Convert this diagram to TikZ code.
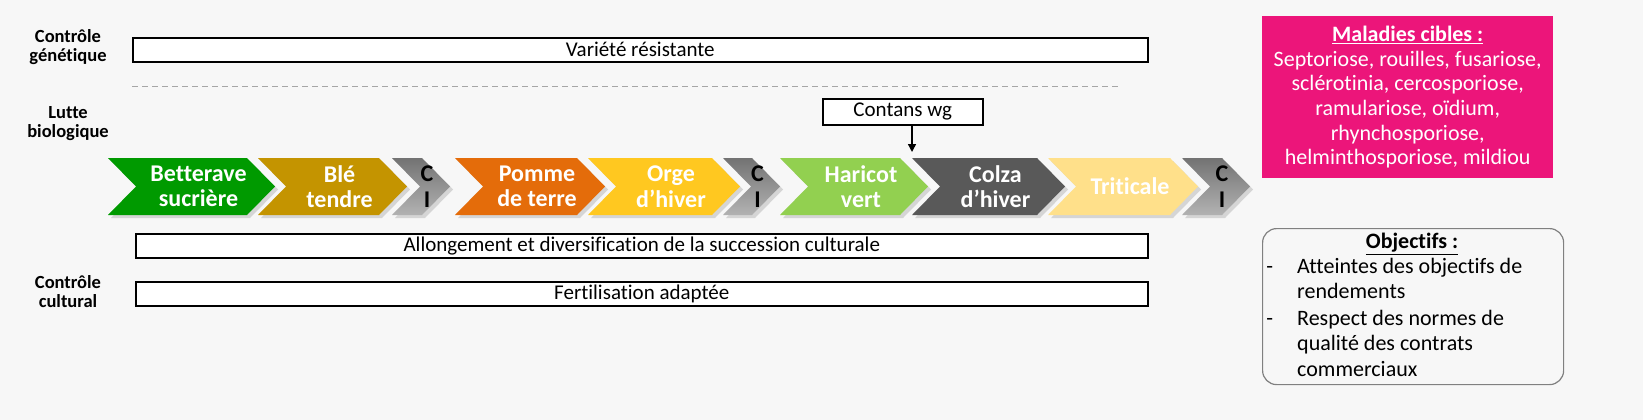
\documentclass[tikz,border=0pt]{standalone}
\usepackage{fontspec}
\setmainfont{Carlito}[Ligatures=NoCommon]
\usetikzlibrary{arrows.meta}
\definecolor{bg}{HTML}{F7F7F7}
\definecolor{cgreen}{HTML}{009A00}
\definecolor{cble}{HTML}{C49400}
\definecolor{corange}{HTML}{E46C0A}
\definecolor{cyellow}{HTML}{FFC820}
\definecolor{clgreen}{HTML}{92D050}
\definecolor{cdark}{HTML}{595959}
\definecolor{cpale}{HTML}{FFE08A}
\definecolor{cpink}{HTML}{EC157A}
\tikzset{
 lbox/.style={draw=black,line width=1.6pt,fill=white,minimum height=24pt,font=\fontsize{21}{23}\selectfont,inner sep=0pt},
 side/.style={font=\bfseries\fontsize{18.5}{19}\selectfont,align=center},
 clab/.style={text=white,font=\bfseries\fontsize{24}{25.5}\selectfont,align=center},
 cilab/.style={text=black,font=\bfseries\fontsize{24}{25.5}\selectfont,align=center}
}
\newcommand{\chev}[4]{%
 \fill[black!25,opacity=0.6] (#1+3,161)--(#2-28+3,161)--(#2+3,189.5)--(#2-28+3,218)--(#1+3,218)--(#1+28+3,189.5)--cycle;%
 \fill[#3] (#1,158)--(#2-28,158)--(#2,186.5)--(#2-28,215)--(#1,215)--(#1+28,186.5)--cycle;%
 \coordinate (#4) at ({(#1+#2)/2+7},186.5);}
\newcommand{\chevci}[3]{%
 \fill[black!25,opacity=0.6] (#1+3,161)--(#2-28+3,161)--(#2+3,189.5)--(#2-28+3,218)--(#1+3,218)--(#1+28+3,189.5)--cycle;%
 \shade[top color=black!55,bottom color=black!30] (#1,158)--(#2-28,158)--(#2,186.5)--(#2-28,215)--(#1,215)--(#1+28,186.5)--cycle;%
 \coordinate (#3) at ({(#1+#2)/2+6},186.5);}
\begin{document}
\begin{tikzpicture}[x=1pt,y=-1pt]
\fill[bg] (0,0) rectangle (1643,420);
\node[side] (g) at (68,47) {Contrôle\\génétique};
\node[side] (b) at (68,124) {Lutte\\biologique};
\node[side] (c) at (68,292) {Contrôle\\cultural};
\node[lbox,minimum width=1015pt,anchor=north west] (v) at (132,37) {Variété résistante};
\draw[gray!70,line width=1pt,dash pattern=on 6pt off 4pt] (132,86) -- (1120,86);
\chev{108}{275}{cgreen}{c1}
\chev{258}{407}{cble}{c2}
\chevci{392}{450}{c3}
\chev{455}{605}{corange}{c4}
\chev{588}{740}{cyellow}{c5}
\chevci{723}{780}{c6}
\chev{780}{928}{clgreen}{c7}
\chev{912}{1065}{cdark}{c8}
\chev{1048}{1198}{cpale}{c9}
\chevci{1182}{1250}{c10}
\node[clab] at (c1) {Betterave\\sucrière};
\node[clab] at (c2) {Blé\\tendre};
\node[cilab] at (c3) {C\\I};
\node[clab] at (c4) {Pomme\\de terre};
\node[clab] at (c5) {Orge\\d’hiver};
\node[cilab] at (c6) {C\\I};
\node[clab] at (c7) {Haricot\\vert};
\node[clab] at (c8) {Colza\\d’hiver};
\node[clab] at (c9) {Triticale};
\node[cilab] at (c10) {C\\I};
\node[lbox,minimum width=160pt,minimum height=26pt,anchor=north west] (w) at (822,98) {Contans wg};
\coordinate (wt) at (912,152);
\draw[-{Triangle[length=8pt,width=8pt]},line width=1.4pt] (912,125) -- (wt);
\node[lbox,minimum width=1012pt,anchor=north west] (a) at (135,233) {Allongement et diversification de la succession culturale};
\node[lbox,minimum width=1012pt,anchor=north west] (f) at (135,281) {Fertilisation adaptée};
\node[fill=cpink,minimum width=291pt,minimum height=162pt,anchor=north west] (m) at (1262,16) {};
\node[text=white,align=center,font=\fontsize{22}{24.7}\selectfont] (mt) at (m.center) {\textbf{\underline{Maladies cibles :}}\\Septoriose, rouilles, fusariose,\\sclérotinia, cercosporiose,\\ramulariose, oïdium,\\rhynchosporiose,\\helminthosporiose, mildiou};
\node[draw=gray,line width=1.2pt,rounded corners=14pt,minimum width=301pt,minimum height=156pt,anchor=north west] (o) at (1262,228) {};
\node[font=\bfseries\fontsize{22}{24}\selectfont] (ot) at (1412,244) {\underline{Objectifs :}};
\node[anchor=north west,align=left,font=\fontsize{22}{25.5}\selectfont,inner sep=0pt] (o1) at (1297,258) {\llap{-\hspace{24pt}}Atteintes des objectifs de\\rendements};
\node[anchor=north west,align=left,font=\fontsize{22}{25.5}\selectfont,inner sep=0pt] (o2) at (1297,310) {\llap{-\hspace{24pt}}Respect des normes de\\qualité des contrats\\commerciaux};
\pgfresetboundingbox
\useasboundingbox (0,0) rectangle (1643,420);
\end{tikzpicture}
\end{document}
